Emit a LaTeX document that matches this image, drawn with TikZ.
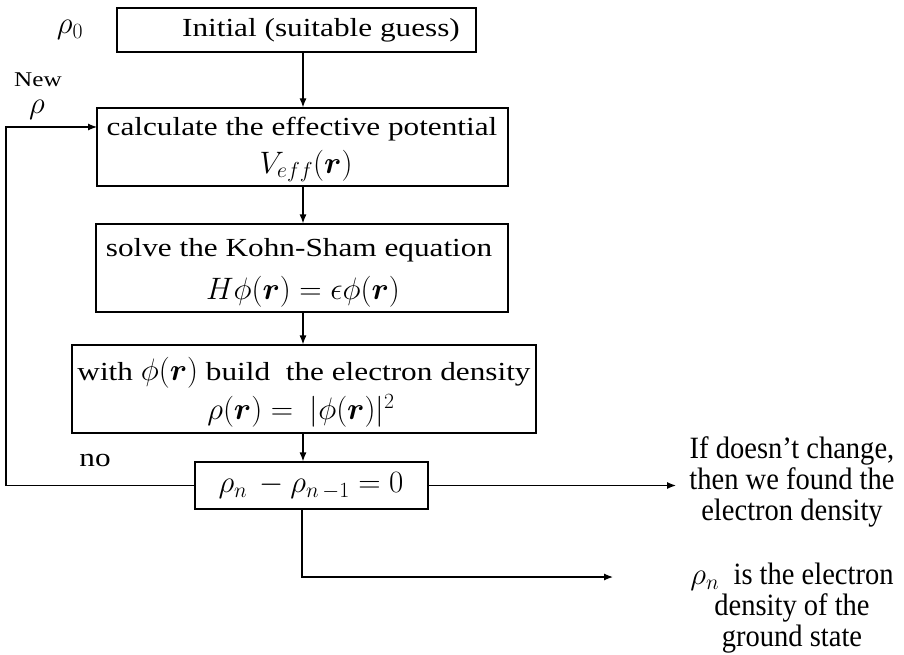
\RequirePackage{fix-cm}
\documentclass[tikz,border=0pt]{standalone}
\usepackage{amsmath,bm}
\usepackage{fontspec}
\setmainfont{Liberation Serif}[FakeStretch=1.2,Scale=0.84]
\newfontfamily\sidefont{Liberation Serif}[FakeStretch=0.92]
\usetikzlibrary{arrows.meta}
\tikzset{
  box/.style={draw, line width=1.2pt, inner sep=0pt},
  txt/.style={inner sep=0pt, font=\fontsize{31}{36}\selectfont},
  side/.style={inner sep=0pt, align=center, font=\sidefont\fontsize{31}{31}\selectfont},
  arr/.style={line width=1.2pt, -{Latex[length=9pt,width=7pt]}}
}
\begin{document}
\begin{tikzpicture}[x=1pt,y=-1pt]
\useasboundingbox (0,0) rectangle (904,655);
% boxes
\node[box, minimum width=359pt, minimum height=44pt] (b1) at (296.5,30) {};
\node[box, minimum width=411pt, minimum height=78pt] (b2) at (302.5,147) {};
\node[box, minimum width=412pt, minimum height=88pt] (b3) at (302,268) {};
\node[box, minimum width=464pt, minimum height=88pt] (b4) at (304,389) {};
\node[box, minimum width=233pt, minimum height=47pt] (b5) at (311.5,485.5) {};
% box texts
\node[txt] (t1) at (321,30) {Initial (suitable guess)};
\node[txt] (t2a) at (302,129) {calculate the effective potential};
\node[txt] (t2b) at (306,166) {$V_{eff}(\bm{r})$};
\node[txt] (t3a) at (299,250) {solve the Kohn-Sham equation};
\node[txt] (t3b) at (303,292) {$H\phi(\bm{r}) = \epsilon\phi(\bm{r})$};
\node[txt] (t4a) at (304,373) {with $\phi(\bm{r})$ build\ \ the electron density};
\node[txt] (t4b) at (301,411) {$\rho(\bm{r}) = \ |\phi(\bm{r})|^2$};
\node[txt] (t5) at (311,486) {$\rho_n\, - \rho_{n\,-1} = 0$};
% side labels
\node[txt] (rho0) at (70,30) {$\rho_0$};
\node[txt, font=\fontsize{25}{28}\selectfont] (new) at (38,80) {New};
\node[txt] (rhonew) at (37,110) {$\rho$};
\node[txt] (no) at (95,460) {no};
\node[side] (r1t) at (792,482) {If doesn’t change,\\then we found the\\electron density};
\node[side] (r2t) at (792,608) {$\rho_n$\ \ is the electron\\density of the\\ground state};
% connector helpers
\coordinate (ax) at (303,0);
\coordinate (lp) at (6,0);
\coordinate (inB2) at (97,127);
\coordinate (dx) at (302,0);
\coordinate (e1) at (676,485.5);
\coordinate (e2) at (613,577);
% arrows
\draw[arr] (ax |- b1.south) -- (ax |- b2.north);
\draw[arr] (ax |- b2.south) -- (ax |- b3.north);
\draw[arr] (ax |- b3.south) -- (ax |- b4.north);
\draw[arr] (ax |- b4.south) -- (ax |- b5.north);
\draw[arr] (b5.west) -- (lp |- b5.west) -- (lp |- inB2) -- (inB2);
\draw[arr] (b5.east) -- (e1);
\draw[arr] (dx |- b5.south) |- (e2);
\end{tikzpicture}
\end{document}
